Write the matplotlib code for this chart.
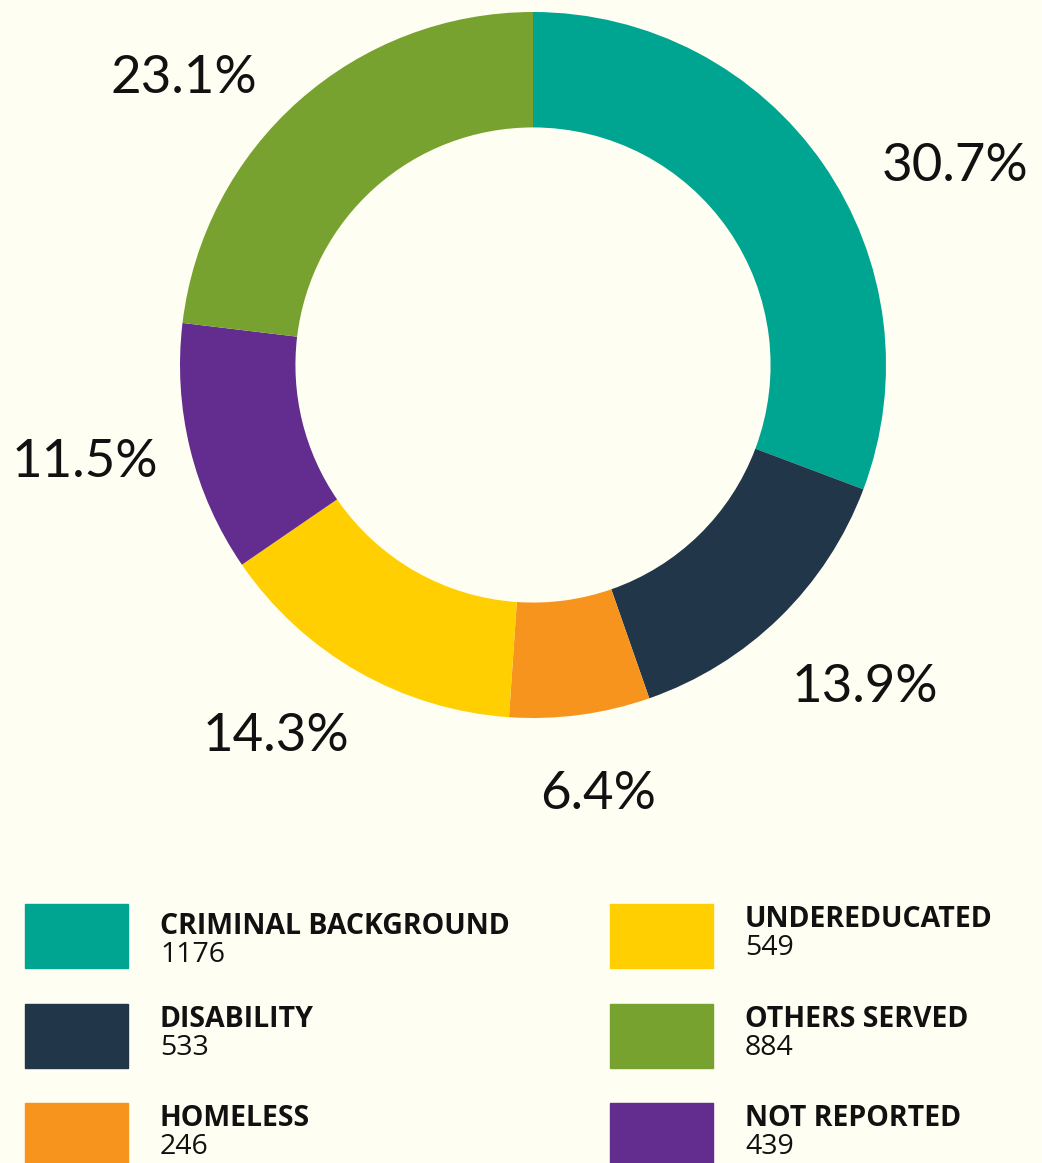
import numpy as np
import matplotlib
matplotlib.use("Agg")
import matplotlib.pyplot as plt

categories = ["CRIMINAL BACKGROUND", "DISABILITY", "HOMELESS",
              "UNDEREDUCATED", "NOT REPORTED", "OTHERS SERVED"]
counts = [1176, 533, 246, 549, 439, 884]
colors = ["#00A591", "#22364A", "#F7941D", "#FFCF01", "#632C8F", "#78A22F"]
# legend order (two columns)
legend_order = ["CRIMINAL BACKGROUND", "DISABILITY", "HOMELESS",
                "UNDEREDUCATED", "OTHERS SERVED", "NOT REPORTED"]

bg = "#FFFEF2"
W, H = 1042, 1163
fig = plt.figure(figsize=(W / 100, H / 100), dpi=100, facecolor=bg)
ax = fig.add_axes([0, 0, 1, 1])

cx, cy, R = 533, H - 365, 353
wedges, _ = ax.pie(counts, colors=colors, startangle=90, counterclock=False,
                   center=(cx, cy), radius=R, frame=True,
                   wedgeprops=dict(width=R * 0.327, edgecolor="none"))
ax.set_xlim(0, W)
ax.set_ylim(0, H)
ax.set_aspect("equal")
ax.axis("off")

total = sum(counts)
# small per-label nudges (angle deg, distance factor)
nudges = [(-9.5, 1.32), (1.5, 1.31), (1, 1.23), (-5, 1.28), (-1.5, 1.30), (9, 1.28)]
for w, c, (da, df) in zip(wedges, counts, nudges):
    mid = np.deg2rad((w.theta1 + w.theta2) / 2 + da)
    x = cx + R * df * np.cos(mid)
    y = cy + R * df * np.sin(mid)
    ax.text(x, y, f"{100 * c / total:.1f}%", ha="center", va="center",
            fontsize=38, family="Lato", color="#111111")

# legend
box_w, box_h = 103, 64
cols_x = [25, 610]
rows_top = [904, 1004, 1103]
for i, name in enumerate(legend_order):
    col, row = divmod(i, 3)
    x0 = cols_x[col]
    top = rows_top[row]
    idx = categories.index(name)
    ax.add_patch(plt.Rectangle((x0, H - top - box_h), box_w, box_h,
                               color=colors[idx], clip_on=False))
    shift = 0 if (col, row) == (0, 0) else -7
    ax.text(x0 + 135, H - (top + 30 + shift), name, ha="left", va="baseline",
            fontsize=20.5, family="Open Sans", fontweight="bold", color="#111111")
    ax.text(x0 + 135, H - (top + 58 + shift), str(counts[idx]), ha="left",
            va="baseline", fontsize=20.5, family="Open Sans", color="#111111")

fig.savefig("out.png", dpi=100, facecolor=bg)
